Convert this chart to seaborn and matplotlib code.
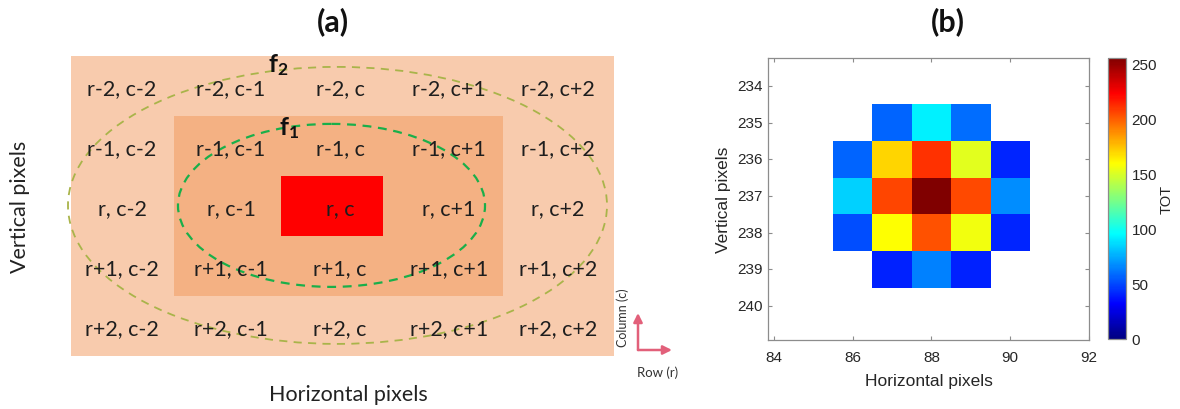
import numpy as np
import pandas as pd
import seaborn as sns
import matplotlib.pyplot as plt
from matplotlib.colors import LinearSegmentedColormap
from matplotlib.patches import Rectangle, Ellipse, FancyArrowPatch

# ---------------- data ----------------
row_offsets = ['r-2', 'r-1', 'r', 'r+1', 'r+2']
col_offsets = ['c-2', 'c-1', 'c', 'c+1', 'c+2']

pixel_rows = [235, 236, 237, 238, 239]
pixel_cols = [86, 87, 88, 89, 90]
nan = np.nan
tot = [
    [nan, 57, 92, 59, nan],
    [57, 170, 211, 152, 41],
    [84, 206, 255, 205, 67],
    [51, 159, 203, 156, 41],
    [nan, 40, 64, 40, nan],
]
x_ticks = [84, 86, 88, 90, 92]
y_ticks = [234, 235, 236, 237, 238, 239, 240]
cbar_ticks = [0, 50, 100, 150, 200, 250]

# ---------------- style ----------------
sns.set_theme(style='white')
plt.rcParams['font.family'] = ['Lato', 'DejaVu Sans']
plt.rcParams['mathtext.fontset'] = 'custom'
plt.rcParams['mathtext.bf'] = 'Lato:bold'
plt.rcParams['mathtext.rm'] = 'Lato'

# MATLAB-style jet
jet_m = LinearSegmentedColormap.from_list('jet_m', [
    (0.0, (0, 0, 0.5)), (1 / 8, (0, 0, 1)), (3 / 8, (0, 1, 1)),
    (5 / 8, (1, 1, 0)), (7 / 8, (1, 0, 0)), (1.0, (0.5, 0, 0))], N=256)

W, H = 1180, 410
fig = plt.figure(figsize=(W / 100, H / 100), dpi=100)


def fpx(x, y):
    return (x / W, 1 - y / H)


# ---------------- panel (a) ----------------
axa = fig.add_axes([0, 0, 700 / W, 1])
axa.set_axis_off()
X0, XS, Y0, YS = 122, 109, 87, 60
axa.set_xlim(-X0 / XS, (700 - X0) / XS)
axa.set_ylim((H - Y0) / YS, -Y0 / YS)

axa.add_patch(Rectangle((-0.47, -0.5), 4.984, 5.0, fc='#F8CBAD', ec='none', zorder=1))
axa.add_patch(Rectangle((0.477, 0.5), 3.018, 3.0, fc='#F4B183', ec='none', zorder=2))
axa.add_patch(Rectangle((1.459, 1.5), 0.935, 1.0, fc='#FF0000', ec='none', zorder=3))

for j, r in enumerate(row_offsets):
    for i, c in enumerate(col_offsets):
        axa.text(i, j + 0.03, f'{r}, {c}', ha='center', va='center',
                 fontsize=15.5, color='#1E1E1E', zorder=5)

axa.add_patch(Ellipse((1.977, 1.99), 4.945, 4.617, fill=False, ec='#A9B44A',
                      lw=1.3, ls=(0, (4.5, 3.5)), zorder=4))
axa.add_patch(Ellipse((1.922, 1.99), 2.817, 2.717, fill=False, ec='#19AF4A',
                      lw=1.6, ls=(0, (4, 3)), zorder=4))
axa.text(1.43, -0.36, r'$\mathbf{f_2}$', ha='center', va='center', fontsize=18,
         color='#111111', zorder=6)
axa.text(1.53, 0.68, r'$\mathbf{f_1}$', ha='center', va='center', fontsize=18,
         color='#111111', zorder=6)

fig.text(*fpx(333, 22), '(a)', ha='center', va='center', fontsize=22,
         fontweight='bold', color='#111111')
fig.text(*fpx(20, 207), 'Vertical pixels', ha='center', va='center', rotation=90,
         fontsize=15.5, color='#222222')
fig.text(*fpx(348, 395), 'Horizontal pixels', ha='center', va='center',
         fontsize=15.5, color='#222222')

arrow_col = '#E2607A'
corner = fpx(638, 351)
for tip in (fpx(638, 314), fpx(672, 351)):
    fig.patches.append(FancyArrowPatch(corner, tip, transform=fig.transFigure,
                                       arrowstyle='-|>', mutation_scale=13,
                                       lw=1.8, color=arrow_col, shrinkA=0, shrinkB=0))
fig.text(*fpx(623, 318), 'Column (c)', ha='center', va='center', rotation=90,
         fontsize=9, color='#333333')
fig.text(*fpx(658, 373), 'Row (r)', ha='center', va='center', fontsize=9.5,
         color='#333333')

# ---------------- panel (b) ----------------
axb = fig.add_axes([768 / W, (H - 341) / H, (1089 - 768) / W, (341 - 59) / H])
cax = fig.add_axes([1108 / W, (H - 340) / H, 18 / W, (340 - 59) / H])

df = pd.DataFrame(tot, index=pixel_rows, columns=pixel_cols)
sns.heatmap(df, ax=axb, cmap=jet_m, vmin=0, vmax=255, cbar_ax=cax,
            cbar_kws={'ticks': cbar_ticks}, linewidths=0)


def xpos(v):
    return v - pixel_cols[0] + 0.5


def ypos(v):
    return v - pixel_rows[0] + 0.5


axb.set_xlim(xpos(83.85), xpos(92.0))
axb.set_ylim(ypos(240.93), ypos(233.24))
axb.set_xticks([xpos(v) for v in x_ticks])
axb.set_xticklabels([str(v) for v in x_ticks], rotation=0)
axb.set_yticks([ypos(v) for v in y_ticks])
axb.set_yticklabels([str(v) for v in y_ticks], rotation=0)

lab_font = ['Liberation Sans', 'DejaVu Sans']
txt_col = '#262626'
for s in axb.spines.values():
    s.set_visible(True)
    s.set_color('#8C8C8C')
    s.set_linewidth(0.9)
axb.tick_params(direction='in', top=True, right=True, bottom=True, left=True,
                length=3, width=0.8, color='#8C8C8C', labelcolor=txt_col,
                labelsize=11)
axb.tick_params(axis='x', pad=7)
axb.tick_params(axis='y', pad=4)
for t in axb.get_xticklabels() + axb.get_yticklabels():
    t.set_fontfamily(lab_font)
axb.set_xlabel('Horizontal pixels', fontsize=12.5, color=txt_col, family=lab_font,
               labelpad=7)
axb.set_ylabel('Vertical pixels', fontsize=12.5, color=txt_col, family=lab_font,
               labelpad=4)

cb = axb.collections[0].colorbar
cb.outline.set_visible(True)
cb.outline.set_linewidth(0.9)
cb.outline.set_edgecolor('#8C8C8C')
cax.tick_params(direction='in', length=3, width=0.8, color='#8C8C8C',
                labelcolor=txt_col, labelsize=11, pad=4, right=True, left=False)
for t in cax.get_yticklabels():
    t.set_fontfamily(lab_font)
cax.set_ylabel('TOT', fontsize=10.5, color=txt_col, family=lab_font, labelpad=2)

fig.text(*fpx(948, 22), '(b)', ha='center', va='center', fontsize=22,
         fontweight='bold', color='#111111')

fig.savefig('out.png', dpi=100, facecolor='white')
